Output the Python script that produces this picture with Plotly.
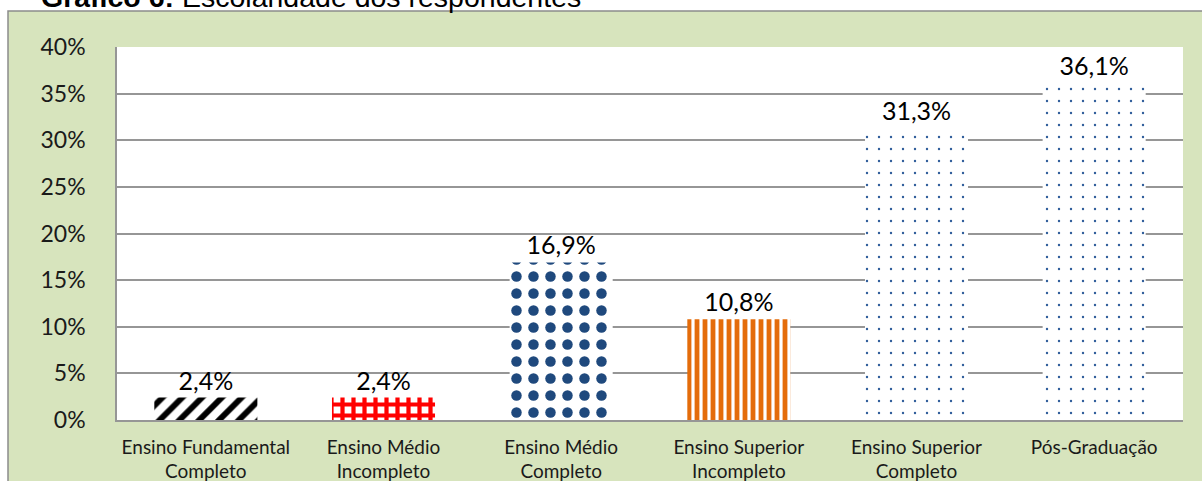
import plotly.graph_objects as go

categories = ["Ensino Fundamental<br>Completo", "Ensino Médio<br>Incompleto", "Ensino Médio<br>Completo",
              "Ensino Superior<br>Incompleto", "Ensino Superior<br>Completo", "Pós-Graduação"]
values = [0.024, 0.024, 0.169, 0.108, 0.313, 0.361]
y_ticks = [0, 0.05, 0.10, 0.15, 0.20, 0.25, 0.30, 0.35, 0.40]

pattern_shapes = ["/", "+", ".", "|", ".", "."]
pattern_fg = ["#000000", "#FF0000", "#1F497D", "#E46C0A", "#2E5C9A", "#2E5C9A"]
pattern_size = [14, 11, 17, 8, 12, 12]
pattern_solidity = [0.42, 0.62, 0.3, 0.6, 0.03, 0.03]

W, H = 1202, 481
L, R, T, B = 117, 19, 47, 61
pw, ph = W - L - R, H - T - B

def px_x(p):
    return (p - L) / pw

def px_y(p):
    return (H - B - p) / ph

fig = go.Figure()
fig.add_trace(go.Bar(
    x=categories, y=values,
    marker=dict(color="white", line=dict(width=0),
                pattern=dict(shape=pattern_shapes, fgcolor=pattern_fg, bgcolor="white",
                             size=pattern_size, solidity=pattern_solidity, fillmode="replace")),
    texttemplate="%{y:.1%}", textposition="outside", cliponaxis=False,
    textfont=dict(family="Lato", size=25, color="black"),
    hoverinfo="skip",
))

fig.update_layout(
    width=W, height=H,
    margin=dict(l=L, r=R, t=T, b=B, autoexpand=False),
    paper_bgcolor="white", plot_bgcolor="rgba(0,0,0,0)",
    separators=",.",
    bargap=0.42,
    showlegend=False,
    shapes=[
        dict(type="rect", xref="paper", yref="paper", x0=px_x(8), x1=px_x(1215), y0=px_y(500), y1=px_y(11),
             fillcolor="#D7E4BD", line=dict(color="#8C8C8C", width=1.5), layer="below"),
        dict(type="rect", xref="paper", yref="paper", x0=0, x1=1, y0=0, y1=1,
             fillcolor="white", line=dict(width=0), layer="below"),
    ],
    annotations=[
        dict(text="<b>Gráfico 6:</b> Escolaridade dos respondentes", xref="paper", yref="paper",
             x=px_x(40), y=px_y(14), xanchor="left", yanchor="bottom", showarrow=False,
             font=dict(family="Liberation Sans", size=28.5, color="black"), borderpad=0),
    ],
)
fig.update_xaxes(range=[-0.5, 5.5], showgrid=False, showline=True, linecolor="#969696", linewidth=1.5,
                 automargin=False,
                 tickfont=dict(family="Lato", size=19, color="#1A1A1A"), ticks="", ticklabelstandoff=9)
fig.update_yaxes(range=[0, 0.4], tickvals=y_ticks, tickformat=".0%", showgrid=True, gridcolor="#969696",
                 gridwidth=1.5, showline=True, linecolor="#969696", linewidth=1.5, zeroline=False,
                 automargin=False,
                 tickfont=dict(family="Lato", size=23, color="#1A1A1A"), ticks="", ticklabelstandoff=25)

fig.write_html("out.html", config={"displayModeBar": False},
               post_script="document.body.style.margin='0';document.body.style.overflow='hidden';")
